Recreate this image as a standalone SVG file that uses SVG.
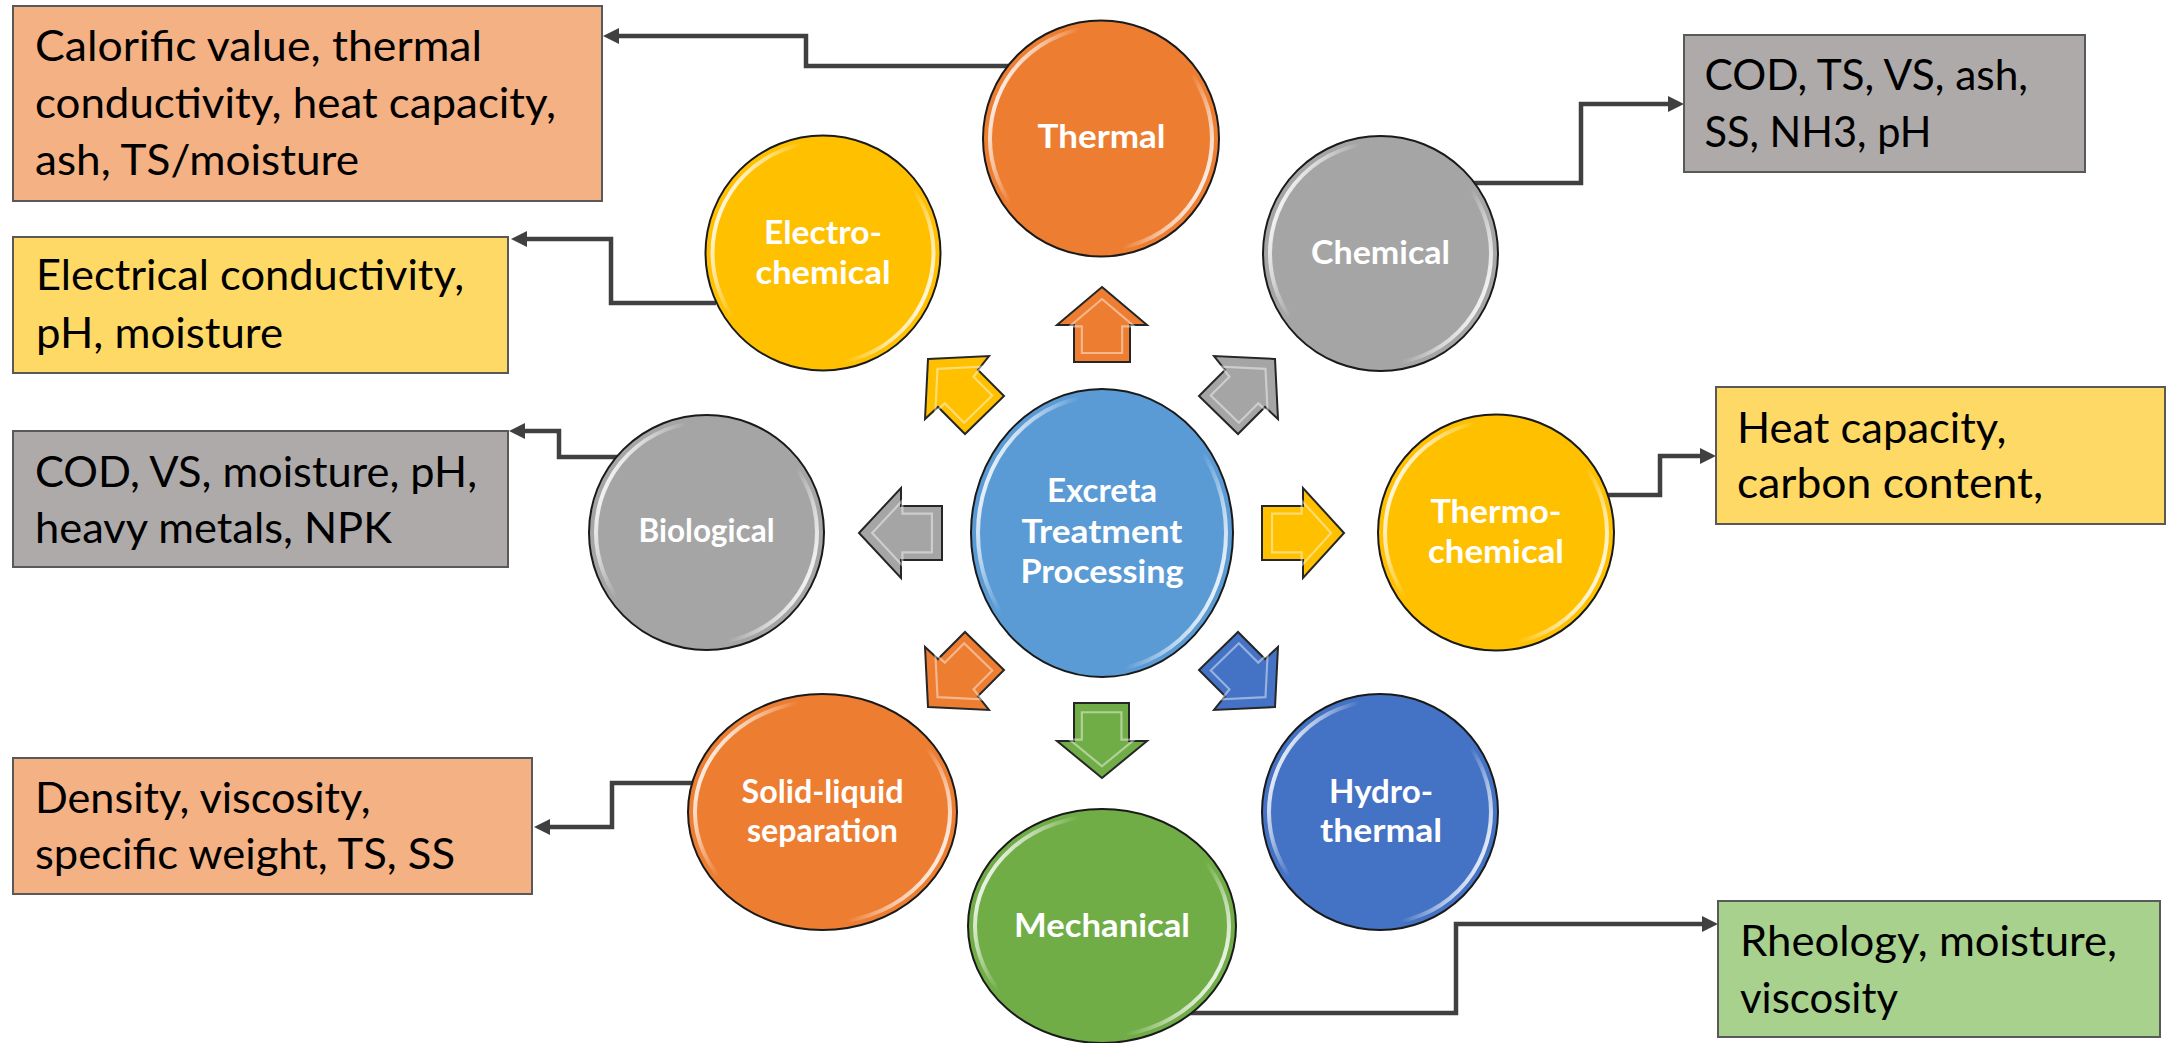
<svg xmlns="http://www.w3.org/2000/svg" width="2170" height="1043" viewBox="0 0 2170 1043">
<style>
.box{stroke:#595959;stroke-width:2}
.bt{font-family:Lato,"Liberation Sans",sans-serif;font-size:42px;fill:#000}
.nt{font-family:Lato,"Liberation Sans",sans-serif;font-weight:700;font-size:33px;fill:#fff;text-anchor:middle}
.node{stroke:#1a1a1a;stroke-width:2}
.hl{fill:none;stroke:url(#hlg);stroke-width:4}
.conn{fill:none;stroke:#404040;stroke-width:4.5;marker-end:url(#ah)}
.ba{stroke:#262626;stroke-width:2;stroke-linejoin:miter}
.bv{fill:none;stroke:#fff;stroke-opacity:.45;stroke-width:3}
</style>
<defs>
<marker id="ah" viewBox="0 0 16 16" refX="6" refY="8" markerWidth="16" markerHeight="16" markerUnits="userSpaceOnUse" orient="auto"><path d="M0,0L16,8L0,16z" fill="#404040"/></marker>
<linearGradient id="hlg" x1="0" y1="0.3" x2="1" y2="0.7">
<stop offset="0" stop-color="#fff" stop-opacity="0.95"/>
<stop offset="0.12" stop-color="#fff" stop-opacity="0.55"/>
<stop offset="0.25" stop-color="#fff" stop-opacity="0"/>
<stop offset="0.75" stop-color="#fff" stop-opacity="0"/>
<stop offset="0.88" stop-color="#fff" stop-opacity="0.55"/>
<stop offset="1" stop-color="#fff" stop-opacity="0.95"/>
</linearGradient>
</defs>
<rect width="2170" height="1043" fill="#fff"/>

<g id="connectors">
<path class="conn" d="M1012,66H806V36H613"/>
<path class="conn" d="M716,303H611V239H521"/>
<path class="conn" d="M1472,183H1581V104H1674"/>
<path class="conn" d="M618,457H559V431H519"/>
<path class="conn" d="M696,783H612V827H544"/>
<path class="conn" d="M1604,495H1660V456H1706"/>
<path class="conn" d="M1188,1013H1456V924H1708"/>
</g>

<g id="block-arrows">
<g id="arrow-up"><polygon class="ba" fill="#ED7D31" points="1102,287 1147,325 1130,325 1130,362 1074,362 1074,325 1057,325"/><polygon class="bv" transform="translate(1102,330) scale(.72) translate(-1102,-330)" points="1102,287 1147,325 1130,325 1130,362 1074,362 1074,325 1057,325"/></g>
<g id="arrow-down"><polygon class="ba" fill="#70AD47" points="1102,778 1147,741 1129,741 1129,703 1074,703 1074,741 1057,741"/><polygon class="bv" transform="translate(1102,736) scale(.72) translate(-1102,-736)" points="1102,778 1147,741 1129,741 1129,703 1074,703 1074,741 1057,741"/></g>
<g id="arrow-left"><polygon class="ba" fill="#A5A5A5" points="859,533 901,488 901,506 942,506 942,560 901,560 901,578"/><polygon class="bv" transform="translate(906,533) scale(.72) translate(-906,-533)" points="859,533 901,488 901,506 942,506 942,560 901,560 901,578"/></g>
<g id="arrow-right"><polygon class="ba" fill="#FFC000" points="1344,533 1303,488 1303,506 1262,506 1262,560 1303,560 1303,578"/><polygon class="bv" transform="translate(1298,533) scale(.72) translate(-1298,-533)" points="1344,533 1303,488 1303,506 1262,506 1262,560 1303,560 1303,578"/></g>
<g id="arrow-upleft"><polygon class="ba" fill="#FFC000" points="928,359 989,356 978,370 1004,396 965,434 938,407 925,419"/><polygon class="bv" transform="translate(962,394) scale(.72) translate(-962,-394)" points="928,359 989,356 978,370 1004,396 965,434 938,407 925,419"/></g>
<g id="arrow-upright"><polygon class="ba" fill="#A5A5A5" points="1275,359 1214,356 1225,370 1199,396 1238,434 1265,407 1278,419"/><polygon class="bv" transform="translate(1241,394) scale(.72) translate(-1241,-394)" points="1275,359 1214,356 1225,370 1199,396 1238,434 1265,407 1278,419"/></g>
<g id="arrow-downleft"><polygon class="ba" fill="#ED7D31" points="928,707 989,710 978,696 1004,670 965,632 938,659 925,647"/><polygon class="bv" transform="translate(962,672) scale(.72) translate(-962,-672)" points="928,707 989,710 978,696 1004,670 965,632 938,659 925,647"/></g>
<g id="arrow-downright"><polygon class="ba" fill="#4472C4" points="1275,707 1214,710 1225,696 1199,670 1238,632 1265,659 1278,647"/><polygon class="bv" transform="translate(1241,672) scale(.72) translate(-1241,-672)" points="1275,707 1214,710 1225,696 1199,670 1238,632 1265,659 1278,647"/></g>
</g>

<g id="node-center"><ellipse class="node" cx="1102" cy="533" rx="131" ry="144" fill="#5B9BD5"/><ellipse class="hl" cx="1102" cy="533" rx="124" ry="137"/>
<text class="nt" x="1102" y="502" textLength="110" lengthAdjust="spacingAndGlyphs">Excreta</text>
<text class="nt" x="1102" y="543" textLength="161" lengthAdjust="spacingAndGlyphs">Treatment</text>
<text class="nt" x="1102" y="583" textLength="163" lengthAdjust="spacingAndGlyphs">Processing</text></g>

<g id="node-thermal"><circle class="node" cx="1101" cy="138.5" r="118" fill="#ED7D31"/><ellipse class="hl" cx="1101" cy="138.5" rx="111" ry="111"/>
<text class="nt" x="1101.5" y="148" textLength="128" lengthAdjust="spacingAndGlyphs">Thermal</text></g>

<g id="node-electrochemical"><circle class="node" cx="823" cy="253" r="117.5" fill="#FFC000"/><ellipse class="hl" cx="823" cy="253" rx="110.5" ry="110.5"/>
<text class="nt" x="823" y="243.5" textLength="118" lengthAdjust="spacingAndGlyphs">Electro-</text>
<text class="nt" x="823" y="283.5" textLength="135" lengthAdjust="spacingAndGlyphs">chemical</text></g>

<g id="node-chemical"><circle class="node" cx="1380.5" cy="253.5" r="117.5" fill="#A5A5A5"/><ellipse class="hl" cx="1380.5" cy="253.5" rx="110.5" ry="110.5"/>
<text class="nt" x="1380.5" y="264" textLength="139" lengthAdjust="spacingAndGlyphs">Chemical</text></g>

<g id="node-biological"><circle class="node" cx="706.5" cy="532.5" r="117.5" fill="#A5A5A5"/><ellipse class="hl" cx="706.5" cy="532.5" rx="110.5" ry="110.5"/>
<text class="nt" x="706.5" y="542" textLength="136" lengthAdjust="spacingAndGlyphs">Biological</text></g>

<g id="node-thermochemical"><circle class="node" cx="1496" cy="532.5" r="118" fill="#FFC000"/><ellipse class="hl" cx="1496" cy="532.5" rx="111" ry="111"/>
<text class="nt" x="1496" y="523" textLength="131" lengthAdjust="spacingAndGlyphs">Thermo-</text>
<text class="nt" x="1496" y="563" textLength="136" lengthAdjust="spacingAndGlyphs">chemical</text></g>

<g id="node-solidliquid"><ellipse class="node" cx="822.5" cy="812" rx="134.5" ry="118" fill="#ED7D31"/><ellipse class="hl" cx="822.5" cy="812" rx="127.5" ry="111"/>
<text class="nt" x="822.5" y="803" textLength="162" lengthAdjust="spacingAndGlyphs">Solid-liquid</text>
<text class="nt" x="822.5" y="842" textLength="151" lengthAdjust="spacingAndGlyphs">separation</text></g>

<g id="node-hydrothermal"><circle class="node" cx="1380" cy="812" r="118" fill="#4472C4"/><ellipse class="hl" cx="1380" cy="812" rx="111" ry="111"/>
<text class="nt" x="1381" y="803" textLength="104" lengthAdjust="spacingAndGlyphs">Hydro-</text>
<text class="nt" x="1381" y="842" textLength="122" lengthAdjust="spacingAndGlyphs">thermal</text></g>

<g id="node-mechanical"><ellipse class="node" cx="1102" cy="926" rx="134" ry="117" fill="#70AD47"/><ellipse class="hl" cx="1102" cy="926" rx="127" ry="110"/>
<text class="nt" x="1102" y="937" textLength="176" lengthAdjust="spacingAndGlyphs">Mechanical</text></g>

<g id="box-thermal"><rect class="box" x="13" y="6" width="589" height="195" fill="#F4B183"/>
<text class="bt" x="35" y="60.5" textLength="447" lengthAdjust="spacingAndGlyphs">Calorific value, thermal</text>
<text class="bt" x="35" y="118" textLength="521" lengthAdjust="spacingAndGlyphs">conductivity, heat capacity,</text>
<text class="bt" x="35" y="175" textLength="324" lengthAdjust="spacingAndGlyphs">ash, TS/moisture</text></g>

<g id="box-electrochemical"><rect class="box" x="13" y="237" width="495" height="136" fill="#FFD966"/>
<text class="bt" x="36" y="290" textLength="428" lengthAdjust="spacingAndGlyphs">Electrical conductivity,</text>
<text class="bt" x="36" y="348" textLength="247" lengthAdjust="spacingAndGlyphs">pH, moisture</text></g>

<g id="box-chemical"><rect class="box" x="1684" y="35" width="401" height="137" fill="#AEAAAA"/>
<text class="bt" x="1704.5" y="89.5" textLength="323.5" lengthAdjust="spacingAndGlyphs">COD, TS, VS, ash,</text>
<text class="bt" x="1704.5" y="146.5" textLength="227" lengthAdjust="spacingAndGlyphs">SS, NH3, pH</text></g>

<g id="box-biological"><rect class="box" x="13" y="431" width="495" height="136" fill="#AEAAAA"/>
<text class="bt" x="35" y="487" textLength="442" lengthAdjust="spacingAndGlyphs">COD, VS, moisture, pH,</text>
<text class="bt" x="35" y="543" textLength="357" lengthAdjust="spacingAndGlyphs">heavy metals, NPK</text></g>

<g id="box-thermochemical"><rect class="box" x="1716" y="387" width="449" height="137" fill="#FFD966"/>
<text class="bt" x="1737" y="443" textLength="269.5" lengthAdjust="spacingAndGlyphs">Heat capacity,</text>
<text class="bt" x="1737" y="498" textLength="306" lengthAdjust="spacingAndGlyphs">carbon content,</text></g>

<g id="box-solidliquid"><rect class="box" x="13" y="758" width="519" height="136" fill="#F4B183"/>
<text class="bt" x="35" y="813" textLength="335.5" lengthAdjust="spacingAndGlyphs">Density, viscosity,</text>
<text class="bt" x="35" y="868.5" textLength="420" lengthAdjust="spacingAndGlyphs">specific weight, TS, SS</text></g>

<g id="box-mechanical"><rect class="box" x="1718" y="901" width="442" height="136" fill="#A9D18E"/>
<text class="bt" x="1740" y="956" textLength="377" lengthAdjust="spacingAndGlyphs">Rheology, moisture,</text>
<text class="bt" x="1740" y="1013" textLength="158" lengthAdjust="spacingAndGlyphs">viscosity</text></g>
</svg>
